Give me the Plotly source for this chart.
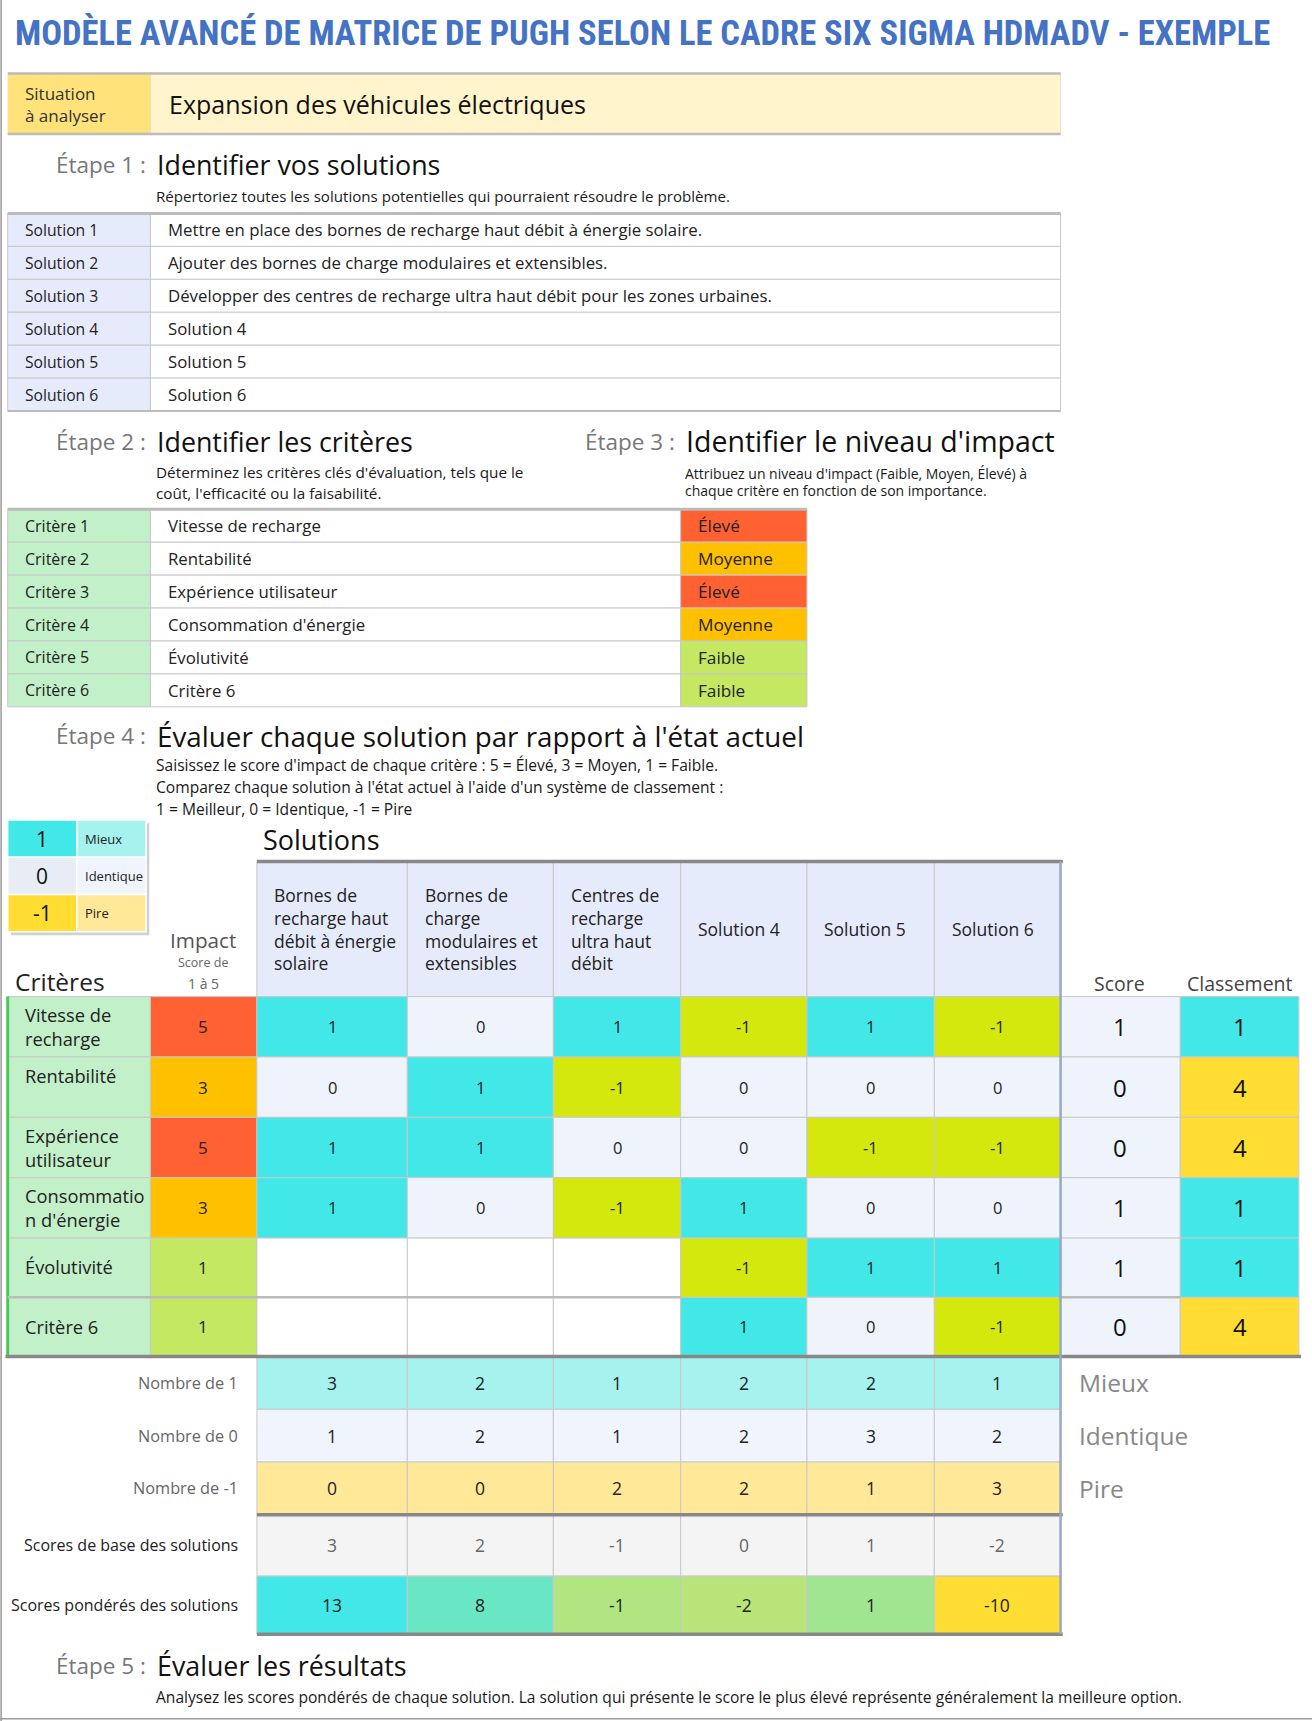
import plotly.graph_objects as go
from plotly.colors import sample_colorscale

# ---------------- DATA ----------------
title = "MODÈLE AVANCÉ DE MATRICE DE PUGH SELON LE CADRE SIX SIGMA HDMADV - EXEMPLE"
situation = "Expansion des véhicules électriques"

solution_labels = ["Solution 1", "Solution 2", "Solution 3", "Solution 4", "Solution 5", "Solution 6"]
solution_desc = [
    "Mettre en place des bornes de recharge haut débit à énergie solaire.",
    "Ajouter des bornes de charge modulaires et extensibles.",
    "Développer des centres de recharge ultra haut débit pour les zones urbaines.",
    "Solution 4", "Solution 5", "Solution 6",
]
criteria_labels = ["Critère 1", "Critère 2", "Critère 3", "Critère 4", "Critère 5", "Critère 6"]
criteria_names = ["Vitesse de recharge", "Rentabilité", "Expérience utilisateur",
                  "Consommation d'énergie", "Évolutivité", "Critère 6"]
impact_levels = ["Élevé", "Moyenne", "Élevé", "Moyenne", "Faible", "Faible"]
impact_scores = [5, 3, 5, 3, 1, 1]

solution_headers = ["Bornes de<br>recharge haut<br>débit à énergie<br>solaire",
                    "Bornes de<br>charge<br>modulaires et<br>extensibles",
                    "Centres de<br>recharge<br>ultra haut<br>débit",
                    "Solution 4", "Solution 5", "Solution 6"]
matrix_row_labels = ["Vitesse de<br>recharge", "Rentabilité", "Expérience<br>utilisateur",
                     "Consommatio<br>n d'énergie", "Évolutivité", "Critère 6"]
scores = [
    [1, 0, 1, -1, 1, -1],
    [0, 1, -1, 0, 0, 0],
    [1, 1, 0, 0, -1, -1],
    [1, 0, -1, 1, 0, 0],
    [None, None, None, -1, 1, 1],
    [None, None, None, 1, 0, -1],
]
row_score = [1, 0, 0, 1, 1, 0]
ranking = [1, 4, 4, 1, 1, 4]
count_plus = [3, 2, 1, 2, 2, 1]
count_zero = [1, 2, 1, 2, 3, 2]
count_minus = [0, 0, 2, 2, 1, 3]
base_scores = [3, 2, -1, 0, 1, -2]
weighted_scores = [13, 8, -1, -2, 1, -10]

legend_values = ["1", "0", "-1"]
legend_names = ["Mieux", "Identique", "Pire"]
summary_labels = ["Nombre de 1", "Nombre de 0", "Nombre de -1",
                  "Scores de base des solutions", "Scores pondérés des solutions"]

# ---------------- STYLE ----------------
FONT = "'Open Sans', Lato, sans-serif"
TITLE_FONT = "'Liberation Sans Narrow', 'Roboto Condensed', 'DejaVu Sans Condensed', Roboto, sans-serif"
CYAN = "#42E8E8"
LIME = "#D4E80E"
ZERO = "#EFF4FC"
YEL = "#FFDD33"
impact_color = {"Élevé": "#FF6133", "Moyenne": "#FFC000", "Faible": "#C4E862"}
val_color = {1: CYAN, 0: ZERO, -1: LIME, None: "#FFFFFF"}
rank_color = {1: CYAN, 4: YEL}
GREEN_LBL = "#C2F0C9"
BLUE_LBL = "#E6EBFC"
GRID = "#C8C8C8"

shapes = []
ann = []


def rect(x0, y0, x1, y1, fill, line=None, lw=0, opacity=1):
    shapes.append(dict(type="rect", xref="x", yref="y", x0=x0, y0=y0, x1=x1, y1=y1,
                       fillcolor=fill, opacity=opacity, layer="below",
                       line=dict(color=line or fill, width=lw)))


def line(x0, y0, x1, y1, color, w):
    shapes.append(dict(type="line", xref="x", yref="y", x0=x0, y0=y0, x1=x1, y1=y1,
                       layer="above", line=dict(color=color, width=w)))


def text(x, y, s, size, color="#1a1a1a", xanchor="left", yanchor="middle", bold=False,
         align="left", family=None):
    if bold:
        s = "<b>" + s + "</b>"
    ann.append(dict(x=x, y=y, xref="x", yref="y", text=s, showarrow=False,
                    xanchor=xanchor, yanchor=yanchor, align=align,
                    font=dict(family=family or FONT, size=size, color=color)))


# frame
line(1, 0, 1, 1568, "#999999", 1.5)
line(0, 1566, 1195, 1566, "#999999", 1.5)

# title
text(12, 30, title, 34.5, "#4472C4", bold=True, family=TITLE_FONT)

# situation
rect(137, 67, 966, 122, "#FFF4CC", "#DDDDDD", 1)
rect(7, 67, 137, 122, "#FFE27A")
line(7, 67, 966, 67, "#BBBBBB", 2.5)
line(7, 122, 966, 122, "#BBBBBB", 2.5)
text(21, 95, "Situation<br>à analyser", 17, "#333333")
text(152, 95, situation, 25, "#111111")


def step(x, y, num, heading, hsize=27.5):
    text(x - 6, y, "Étape %d :" % num, 22.5, "#777777", xanchor="right")
    text(x, y, heading, hsize, "#111111")


# Step 1
step(141, 150, 1, "Identifier vos solutions", 26.8)
text(140, 179, "Répertoriez toutes les solutions potentielles qui pourraient résoudre le problème.", 15.1)
y0 = 194.5
rh = 30
for i, (lab, d) in enumerate(zip(solution_labels, solution_desc)):
    ya, yb = y0 + i * rh, y0 + (i + 1) * rh
    rect(7, ya, 137, yb, BLUE_LBL, GRID, 1)
    rect(137, ya, 966, yb, "#FFFFFF", GRID, 1)
    text(21, (ya + yb) / 2, lab, 15.7, "#222222")
    text(151, (ya + yb) / 2, d, 16.8, "#222222")
line(7, y0, 966, y0, "#BBBBBB", 3)
line(7, y0 + 6 * rh, 966, y0 + 6 * rh, "#BBBBBB", 2)

# Step 2 / 3
step(141, 402, 2, "Identifier les critères", 26.8)
step(623, 402, 3, "Identifier le niveau d'impact", 28.5)
text(140, 430, "Déterminez les critères clés d'évaluation, tels que le", 15.3)
text(140, 449, "coût, l'efficacité ou la faisabilité.", 15.3)
text(622, 431, "Attribuez un niveau d'impact (Faible, Moyen, Élevé) à", 14)
text(622, 447, "chaque critère en fonction de son importance.", 14)
y0 = 464
for i in range(6):
    ya, yb = y0 + i * rh, y0 + (i + 1) * rh
    rect(7, ya, 137, yb, GREEN_LBL, GRID, 1)
    rect(137, ya, 620, yb, "#FFFFFF", GRID, 1)
    rect(620, ya, 735, yb, impact_color[impact_levels[i]], GRID, 1)
    text(21, (ya + yb) / 2, criteria_labels[i], 16, "#222222")
    text(151, (ya + yb) / 2, criteria_names[i], 16.8, "#222222")
    text(634, (ya + yb) / 2, impact_levels[i], 17.2, "#222222")
line(7, y0, 735, y0, "#BBBBBB", 3)

# Step 4
step(141, 670.5, 4, "Évaluer chaque solution par rapport à l'état actuel", 27.8)
text(140, 697, "Saisissez le score d'impact de chaque critère : 5 = Élevé, 3 = Moyen, 1 = Faible.", 15.6)
text(140, 717, "Comparez chaque solution à l'état actuel à l'aide d'un système de classement :", 15.6)
text(140, 737, "1 = Meilleur, 0 = Identique, -1 = Pire", 15.6)

# legend box
rect(10, 750, 136, 852, "#999999", opacity=0.45)
lv_fill = [CYAN, "#E8EDF5", YEL]
ln_fill = ["#A5F2EE", "#F0F4FC", "#FFE999"]
for i in range(3):
    ya, yb = 747 + i * 34, 747 + (i + 1) * 34
    rect(7, ya, 70, yb, lv_fill[i], "#FFFFFF", 1.5)
    rect(70, ya, 133, yb, ln_fill[i], "#FFFFFF", 1.5)
    text(38.5, (ya + yb) / 2, legend_values[i], 21, "#111111", xanchor="center")
    text(76, (ya + yb) / 2, legend_names[i], 13, "#222222")

text(238, 765, "Solutions", 27, "#111111")
col_edges = [234, 371, 504, 620, 735, 851, 966]
rect(234, 785, 966, 908, BLUE_LBL)
for j in range(6):
    rect(col_edges[j], 785, col_edges[j + 1], 908, BLUE_LBL, GRID, 1)
    text(col_edges[j] + 14, 846, solution_headers[j], 17.5, "#222222")
line(234, 785, 968, 785, "#888888", 3.5)

text(185, 856, "Impact", 20.7, "#555555", xanchor="center")
text(185, 877, "Score de", 12.5, "#666666", xanchor="center")
text(185, 896, "1 à 5", 14, "#666666", xanchor="center")
text(12, 894, "Critères", 24.5, "#222222")
text(1020, 896, "Score", 19.5, "#444444", xanchor="center")
text(1129, 896, "Classement", 19.5, "#444444", xanchor="center")

# matrix
row_edges = [908, 963, 1018, 1073, 1128, 1182, 1236]
label_offsets = [None, 17, None, None, 26, None]
for i in range(6):
    ya, yb = row_edges[i], row_edges[i + 1]
    yc = (ya + yb) / 2
    rect(7, ya, 137, yb, GREEN_LBL, GRID, 1)
    ly = yc if label_offsets[i] is None else ya + label_offsets[i]
    text(21, ly, matrix_row_labels[i], 18.3, "#222222")
    rect(137, ya, 234, yb, impact_color[impact_levels[i]], GRID, 1)
    text(185, yc, str(impact_scores[i]), 17, "#222222", xanchor="center")
    for j in range(6):
        v = scores[i][j]
        rect(col_edges[j], ya, col_edges[j + 1], yb, val_color[v], GRID, 1)
        if v is not None:
            text((col_edges[j] + col_edges[j + 1]) / 2, yc, str(v), 16.5, "#222222", xanchor="center")
    rect(966, ya, 1075, yb, ZERO, GRID, 1)
    text(1020, yc, str(row_score[i]), 24, "#111111", xanchor="center")
    rect(1075, ya, 1183, yb, rank_color[ranking[i]], GRID, 1)
    text(1129, yc, str(ranking[i]), 24, "#111111", xanchor="center")
line(7, 908, 7, 1236, "#4CC85A", 3)
line(7, 1182, 620, 1182, "#BBBBBB", 2.5)
line(966, 1182, 1075, 1182, "#BBBBBB", 2.5)
line(5, 1236, 1185, 1236, "#888888", 3.5)

# summary rows
sum_edges = [1236, 1284, 1332, 1380, 1436, 1489]
sum_values = [count_plus, count_zero, count_minus, base_scores, weighted_scores]
sum_fill = ["#A5F2EE", "#F0F4FC", "#FFE999", "#F4F4F4", None]
wcolors = sample_colorscale([[0, YEL], [10 / 23, "#A8E68A"], [1, CYAN]],
                            [(w - min(weighted_scores)) / (max(weighted_scores) - min(weighted_scores))
                             for w in weighted_scores])
for r in range(5):
    ya, yb = sum_edges[r], sum_edges[r + 1]
    yc = (ya + yb) / 2
    text(219, yc, summary_labels[r], 16 if r >= 3 else 16.3, "#666666" if r < 3 else "#222222", xanchor="right")
    for j in range(6):
        fill = sum_fill[r] if sum_fill[r] else wcolors[j]
        rect(col_edges[j], ya, col_edges[j + 1], yb, fill, GRID, 1)
        text((col_edges[j] + col_edges[j + 1]) / 2, yc, str(sum_values[r][j]), 17.5,
             "#666666" if r == 3 else "#222222", xanchor="center")
    if r < 3:
        text(981, yc, legend_names[r], 24.5, "#888888")
line(234, 1380, 968, 1380, "#888888", 3.5)
line(234, 1489, 968, 1489, "#888888", 3.5)
line(966, 785, 966, 1489, "#9AA8C4", 2.5)

# Step 5
step(141, 1517, 5, "Évaluer les résultats", 26.8)
text(140, 1546, "Analysez les scores pondérés de chaque solution. La solution qui présente le score le plus élevé représente généralement la meilleure option.", 15.6)

fig = go.Figure()
fig.update_layout(
    width=1312, height=1721, margin=dict(l=0, r=0, t=0, b=0),
    paper_bgcolor="white", plot_bgcolor="white",
    xaxis=dict(range=[0, 1195], visible=False, fixedrange=True),
    yaxis=dict(range=[1568, 0], visible=False, fixedrange=True),
    shapes=shapes, annotations=ann, showlegend=False,
)
fig.write_html("out.html", config={"displayModeBar": False},
               post_script="document.body.style.margin='0';document.body.style.overflow='hidden';")
